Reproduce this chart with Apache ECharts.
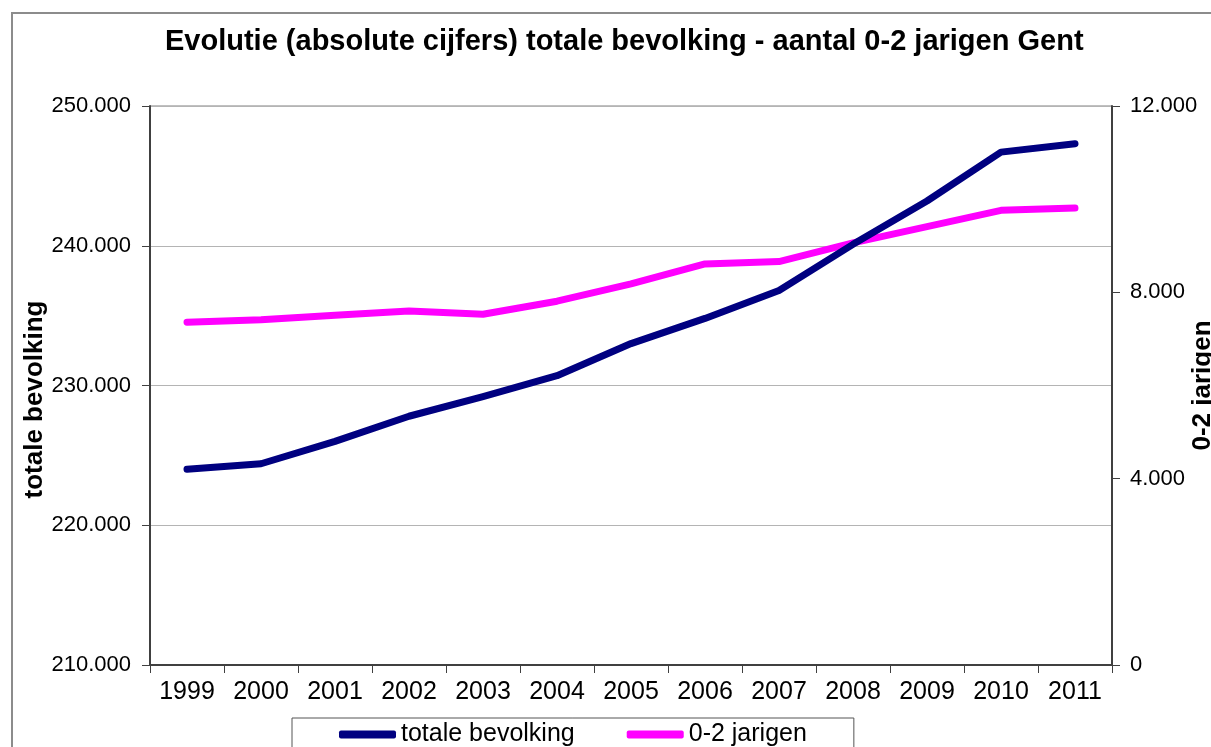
<!DOCTYPE html>
<html>
<head>
<meta charset="utf-8">
<script src="https://cdn.jsdelivr.net/npm/echarts@6/dist/echarts.min.js"></script>
<style>
  html, body { margin: 0; padding: 0; background: #fff; }
  #chart { width: 1211px; height: 747px; }
</style>
</head>
<body>
<div id="chart"></div>
<script>
// jaren
var years = ['1999', '2000', '2001', '2002', '2003', '2004', '2005', '2006', '2007', '2008', '2009', '2010', '2011']
// totale bevolking (linker as)
var totaleBevolking = [224000, 224400, 226000, 227800, 229200, 230700, 233000, 234800, 236800, 240100, 243200, 246700, 247300]
// aantal 0-2 jarigen (rechter as)
var jarigen02 = [7360, 7410, 7510, 7600, 7530, 7810, 8180, 8610, 8660, 9060, 9410, 9760, 9810]

var font = 'Liberation Sans, Arial, sans-serif'

// 250000 -> 250.000
function dots(v) {
  return String(v).replace(/\B(?=(\d{3})+(?!\d))/g, '.')
}

var chart = echarts.init(document.getElementById('chart'))

chart.setOption({
  backgroundColor: '#fff',
  animation: false,
  title: {
    text: 'Evolutie (absolute cijfers) totale bevolking - aantal 0-2 jarigen Gent',
    left: 165,
    top: 27,
    padding: 0,
    textStyle: {
      fontFamily: font,
      fontSize: 29,
      fontWeight: 'bold',
      color: '#000'
    }
  },
  // rand rond de hele grafiek
  graphic: [{
    type: 'rect',
    shape: { x: 12, y: 13, width: 1300, height: 800 },
    style: { fill: 'none', stroke: '#8c8c8c', lineWidth: 2 },
    z: -1
  }],
  grid: {
    left: 150,
    right: 99,
    top: 106,
    bottom: 82,
    outerBoundsMode: 'none',
    containLabel: false,
    show: true,
    borderColor: '#808080',
    borderWidth: 1
  },
  legend: {
    left: 292,
    top: 718,
    padding: [4, 47, 20, 47],
    borderColor: '#555',
    borderWidth: 1,
    itemWidth: 57,
    itemHeight: 8,
    itemGap: 52,
    icon: 'roundRect',
    textStyle: {
      fontFamily: font,
      fontSize: 25,
      color: '#000'
    },
    data: ['totale bevolking', '0-2 jarigen']
  },
  xAxis: {
    type: 'category',
    data: years,
    boundaryGap: true,
    axisLine: { lineStyle: { color: '#404040', width: 2 } },
    axisTick: { show: true, length: 8, lineStyle: { color: '#404040', width: 1 } },
    axisLabel: {
      margin: 15,
      fontFamily: font,
      fontSize: 25,
      color: '#000'
    }
  },
  yAxis: [
    {
      type: 'value',
      min: 210000,
      max: 250000,
      interval: 10000,
      name: 'totale bevolking',
      nameLocation: 'middle',
      nameGap: 102,
      nameMoveOverlap: false,
      nameTextStyle: {
        fontFamily: font,
        fontSize: 26,
        fontWeight: 'bold',
        color: '#000',
        padding: [0, 28, 0, 0]
      },
      axisLine: { show: true, lineStyle: { color: '#404040', width: 2 } },
      axisTick: { show: true, length: 8, lineStyle: { color: '#404040' } },
      axisLabel: {
        margin: 19,
        fontFamily: font,
        fontSize: 22,
        color: '#000',
        formatter: dots
      },
      splitLine: { show: true, lineStyle: { color: '#b4b4b4', width: 1 } }
    },
    {
      type: 'value',
      min: 0,
      max: 12000,
      interval: 4000,
      name: '0-2 jarigen',
      nameLocation: 'middle',
      nameGap: 78,
      nameMoveOverlap: false,
      nameTextStyle: {
        fontFamily: font,
        fontSize: 26,
        fontWeight: 'bold',
        color: '#000'
      },
      axisLine: { show: true, lineStyle: { color: '#404040', width: 2 } },
      axisTick: { show: true, length: 8, lineStyle: { color: '#404040' } },
      axisLabel: {
        margin: 18,
        fontFamily: font,
        fontSize: 22,
        color: '#000',
        formatter: dots
      },
      splitLine: { show: false }
    }
  ],
  series: [
    {
      name: 'totale bevolking',
      type: 'line',
      yAxisIndex: 0,
      data: totaleBevolking,
      symbol: 'none',
      color: '#000080',
      lineStyle: { color: '#000080', width: 7, cap: 'round', join: 'round' },
      z: 3
    },
    {
      name: '0-2 jarigen',
      type: 'line',
      yAxisIndex: 1,
      data: jarigen02,
      symbol: 'none',
      color: '#ff00ff',
      lineStyle: { color: '#ff00ff', width: 7, cap: 'round', join: 'round' },
      z: 2
    }
  ]
})
</script>
</body>
</html>
